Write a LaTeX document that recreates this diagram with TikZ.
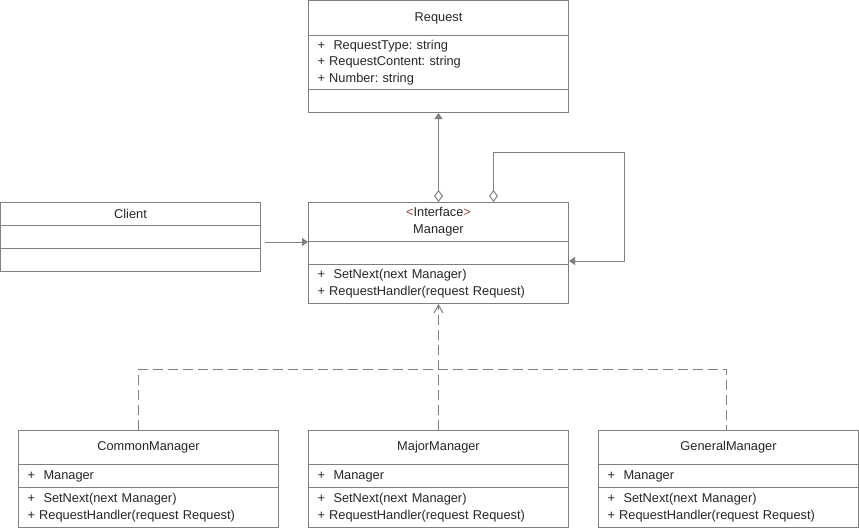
\documentclass[tikz,border=0pt]{standalone}
\usepackage{fontspec}
\setmainfont{Liberation Sans}
\usetikzlibrary{arrows.meta,calc}
\definecolor{linegray}{HTML}{7F7F7F}
\definecolor{inkgray}{HTML}{262626}
\definecolor{chev}{HTML}{A0412D}

\begin{document}
\begin{tikzpicture}[x=0.75pt,y=-0.75pt,line width=0.75pt,
  font=\fontsize{9.6}{12.5}\selectfont\frenchspacing,text=inkgray,
  cell/.style={shape=rectangle,draw=linegray,anchor=north west,minimum width=195pt,inner xsep=6.75pt,inner ysep=0pt,align=center},
  lcell/.style={cell,text width=181.5pt,align=left},
  aggr/.style={draw=linegray,{Diamond[open,length=9pt,width=6.75pt]}-{Triangle[length=4.5pt,width=6pt]}},
  assoc/.style={draw=linegray,-{Triangle[length=4.5pt,width=6pt]}},
  real/.style={draw=linegray,dash pattern=on 7.5pt off 3.75pt}]
\useasboundingbox (0,0) rectangle (859,528);
\node[cell,minimum height=26.25pt] (req0) at (308,0) {Request};
\node[lcell,minimum height=40.5pt] (req1) at (308,35) {+\ \ RequestType: string\\+ RequestContent: string\\+ Number: string};
\node[cell,minimum height=17.25pt] (req2) at (308,89) {};
\node[cell,minimum height=29.25pt,font=\fontsize{9.6}{12.75}\selectfont] (mgr0) at (308,202) {\textcolor{chev}{<}Interface\textcolor{chev}{>}\\Manager};
\node[cell,minimum height=17.25pt] (mgr1) at (308,241) {};
\node[lcell,minimum height=29.25pt] (mgr2) at (308,264) {+\ \ SetNext(next Manager)\\+ RequestHandler(request Request)};
\node[cell,minimum height=17.25pt] (cli0) at (0,202) {Client};
\node[cell,minimum height=17.25pt] (cli1) at (0,225) {};
\node[cell,minimum height=17.25pt] (cli2) at (0,248) {};
\node[cell,minimum height=25.5pt] (com0) at (18,430) {CommonManager};
\node[lcell,minimum height=17.25pt] (com1) at (18,464) {+\ \ Manager};
\node[lcell,minimum height=30pt] (com2) at (18,487) {+\ \ SetNext(next Manager)\\+ RequestHandler(request Request)};
\node[cell,minimum height=25.5pt] (maj0) at (308,430) {MajorManager};
\node[lcell,minimum height=17.25pt] (maj1) at (308,464) {+\ \ Manager};
\node[lcell,minimum height=30pt] (maj2) at (308,487) {+\ \ SetNext(next Manager)\\+ RequestHandler(request Request)};
\node[cell,minimum height=25.5pt] (gen0) at (598,430) {GeneralManager};
\node[lcell,minimum height=17.25pt] (gen1) at (598,464) {+\ \ Manager};
\node[lcell,minimum height=30pt] (gen2) at (598,487) {+\ \ SetNext(next Manager)\\+ RequestHandler(request Request)};
\coordinate (loop) at (624,152);
\coordinate (bus) at (0,369);

\draw[aggr] (mgr0.north) -- (req2.south);
\draw[aggr] ([xshift=41.25pt]mgr0.north) |- (loop) |- ([yshift=3pt]mgr1.south east);
\draw[assoc,shorten <=3pt] (cli1.east |- mgr0.south west) -- (mgr0.south west);
\draw[real] ([xshift=-7.5pt]com0.north) |- ([xshift=-1.5pt]gen0.north |- bus) -- ([xshift=-1.5pt]gen0.north);
\draw[real,-{Straight Barb[length=6pt,width=6.75pt]}] (maj0.north) -- (mgr2.south);
\end{tikzpicture}
\end{document}
